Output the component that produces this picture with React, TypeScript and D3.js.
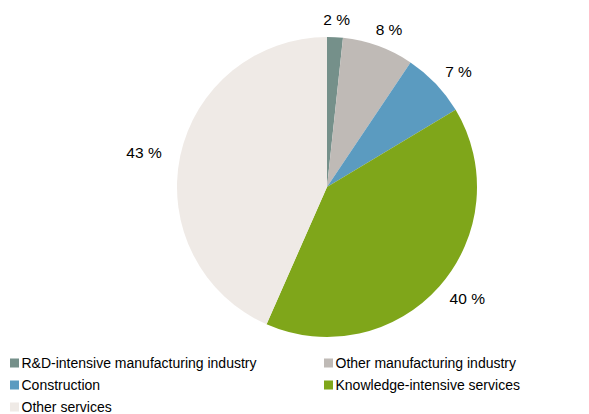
import React from "react";
import * as d3 from "d3";

const categories = [
  "R&D-intensive manufacturing industry",
  "Other manufacturing industry",
  "Construction",
  "Knowledge-intensive services",
  "Other services",
];
const values = [1.7, 7.7, 7.0, 40.2, 43.4];
const labels = ["2 %", "8 %", "7 %", "40 %", "43 %"];
const colors = ["#75908a", "#bfbab6", "#5b9bc0", "#7fa61a", "#efeae6"];

const W = 589;
const H = 414;
const cx = 327;
const cy = 187;
const R = 150;

export default function App() {
  const pie = d3.pie<number>().sort(null).value((d) => d)(values);
  const arc = d3.arc<d3.PieArcDatum<number>>().innerRadius(0).outerRadius(R);
  const font = "'Liberation Sans', Arial, sans-serif";

  const legendRows = [
    { x: 10, y: 363 },
    { x: 324, y: 363 },
    { x: 10, y: 385 },
    { x: 324, y: 385 },
    { x: 10, y: 407 },
  ];

  return (
    <div style={{ position: "absolute", left: 0, top: 0 }}>
      <svg width={W} height={H} style={{ display: "block" }}>
        <rect width={W} height={H} fill="#ffffff" />
        <g transform={`translate(${cx},${cy})`}>
          {pie.map((p, i) => (
            <path key={i} d={arc(p) || ""} fill={colors[i]} />
          ))}
          {pie.map((p, i) => {
            const a = (p.startAngle + p.endAngle) / 2;
            const s = Math.sin(a);
            const c = Math.cos(a);
            const rr = R + 15;
            const w = labels[i].length * 11;
            const h = 6;
            const x = s * rr + (s * w) / 2;
            const y = -c * rr - (c * h) / 2;
            return (
              <text
                key={i}
                x={x}
                y={y}
                textAnchor="middle"
                dominantBaseline="central"
                fontFamily={font}
                fontSize={15.5}
                fill="#000"
              >
                {labels[i]}
              </text>
            );
          })}
        </g>
        {categories.map((c, i) => (
          <g key={c} transform={`translate(${legendRows[i].x},${legendRows[i].y})`}>
            <rect x={0} y={-4.5} width={9} height={9} fill={colors[i]} />
            <text
              x={11.5}
              y={0}
              dominantBaseline="central"
              fontFamily={font}
              fontSize={14}
              fill="#000"
            >
              {c}
            </text>
          </g>
        ))}
      </svg>
    </div>
  );
}
